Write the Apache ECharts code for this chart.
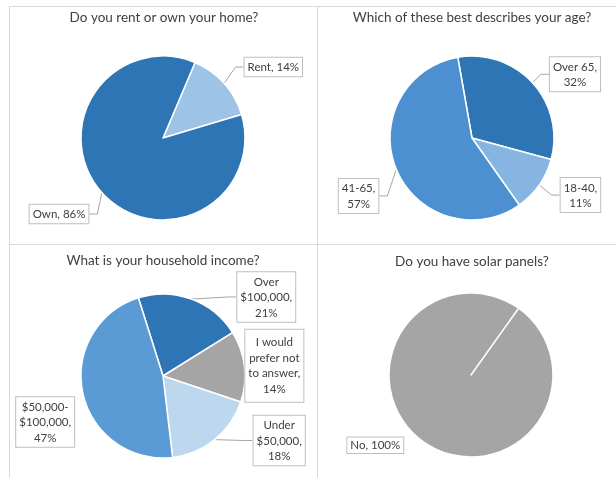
<!DOCTYPE html>
<html><head><meta charset="utf-8">
<script src="https://cdn.jsdelivr.net/npm/echarts@6/dist/echarts.min.js"></script>
<style>html,body{margin:0;padding:0;background:#fff}#c{width:616px;height:478px}</style>
</head><body><div id="c"></div>
<script>
// ---- data ----
const titles = ['Do you rent or own your home?', 'Which of these best describes your age?', 'What is your household income?', 'Do you have solar panels?'];
const homeCats = ['Rent', 'Own'];
const homeVals = [14, 86];
const ageCats = ['Over 65', '18-40', '41-65'];
const ageVals = [32, 11, 57];
const incomeCats = ['Over $100,000', 'I would prefer not to answer', 'Under $50,000', '$50,000-$100,000'];
const incomeVals = [21, 14, 18, 47];
const solarCats = ['No', 'Yes'];
const solarVals = [100, 0];

// ---- styles ----
const FONT = 'Lato';
const LABEL_SIZE = 11.5;
const homeColors = ['#9DC3E6', '#2E75B6'];
const ageColors = ['#2E75B6', '#86B5E1', '#4C90D1'];
const incomeColors = ['#2E75B6', '#A5A5A5', '#BDD7EE', '#5B9BD5'];
const solarColors = ['#A5A5A5', '#A5A5A5'];

function wrapText(s, maxChars) {
  const tokens = [];
  s.split(' ').forEach((w, wi) => {
    const parts = w.split(/(?<=-)/);
    parts.forEach((p, pi) => tokens.push({t: p, sp: (pi === 0 && wi > 0)}));
  });
  const lines = [];
  let cur = '';
  tokens.forEach(tok => {
    const add = (tok.sp && cur ? ' ' : '') + tok.t;
    if (cur && (cur + add).length > maxChars) { lines.push(cur); cur = tok.t; }
    else cur = cur + add;
  });
  if (cur) lines.push(cur);
  return lines;
}

function pieSeries(cats, vals, colors, center, startAngle, maxChars, noLine, offsets, pads) {
  return {
    type: 'pie', center: center, radius: 82, startAngle: startAngle, clockwise: true,
    animation: false, silent: true, avoidLabelOverlap: false,
    data: cats.map((n, i) => ({
      name: n, value: vals[i], itemStyle: {color: colors[i]},
      label: Object.assign({show: vals[i] > 0}, pads[i] ? {padding: pads[i]} : {}),
      labelLine: {show: vals[i] > 0 && !noLine.includes(i)}
    })),
    itemStyle: {borderColor: '#fff', borderWidth: 1.5},
    label: {
      show: true, position: 'outside',
      formatter: p => wrapText(p.name + ', ' + p.value + '%', maxChars).map(l => '{c|' + l + '}').join('\n'),
      color: '#404040', fontFamily: FONT, fontSize: LABEL_SIZE, lineHeight: 15.5,
      backgroundColor: '#fff', borderColor: '#BFBFBF', borderWidth: 1, padding: [2, 3, 1, 3],
      rich: {c: {align: 'center', color: '#404040', fontFamily: FONT, fontSize: LABEL_SIZE, lineHeight: 15.5}}
    },
    labelLine: {show: true, length: 14, length2: 8, lineStyle: {color: '#A6A6A6', width: 1}},
    labelLayout: function (p) {
      const o = offsets[p.dataIndex];
      if (!o) return {};
      return {x: p.labelRect.x + o[0], y: p.labelRect.y + o[1], align: 'left', verticalAlign: 'top'};
    },
    emphasis: {disabled: true}
  };
}

const gridColor = '#D9D9D9';
const TITLE_FONT = '13.5px ' + FONT;
const chart = echarts.init(document.getElementById('c'), null, {renderer: 'canvas'});
chart.setOption({
  backgroundColor: '#fff',
  graphic: [
    {type: 'line', shape: {x1: 9, y1: 6.5, x2: 616, y2: 6.5}, style: {stroke: gridColor, lineWidth: 1}},
    {type: 'line', shape: {x1: 9, y1: 244.5, x2: 616, y2: 244.5}, style: {stroke: gridColor, lineWidth: 1}},
    {type: 'line', shape: {x1: 9.5, y1: 6, x2: 9.5, y2: 478}, style: {stroke: gridColor, lineWidth: 1}},
    {type: 'line', shape: {x1: 317.5, y1: 6, x2: 317.5, y2: 478}, style: {stroke: gridColor, lineWidth: 1}},
    {type: 'text', x: 164, y: 18, style: {text: titles[0], fill: '#404040', font: TITLE_FONT, textAlign: 'center', textVerticalAlign: 'middle'}},
    {type: 'text', x: 472, y: 18, style: {text: titles[1], fill: '#404040', font: TITLE_FONT, textAlign: 'center', textVerticalAlign: 'middle'}},
    {type: 'text', x: 163, y: 261, style: {text: titles[2], fill: '#404040', font: TITLE_FONT, textAlign: 'center', textVerticalAlign: 'middle'}},
    {type: 'text', x: 472, y: 262, style: {text: titles[3], fill: '#404040', font: TITLE_FONT, textAlign: 'center', textVerticalAlign: 'middle'}}
  ],
  series: [
    pieSeries(homeCats, homeVals, homeColors, [163, 138], 67, 99, [], [[-2, -6], [11, 13]], []),
    pieSeries(ageCats, ageVals, ageColors, [472, 138], 100, 8, [], [[-5, 2], [-2, 3], [9, 22]], []),
    pieSeries(incomeCats, incomeVals, incomeColors, [163, 376], 107.5, 10, [1, 3], [[29, 12], [-25, 2], [18, -9], [19, 27]], [null, [5, 3, 5, 3]]),
    pieSeries(solarCats, solarVals, solarColors, [471, 375], 54.5, 99, [0], [[2, -7]], [[0, 3, 0, 3]])
  ]
});
</script></body></html>
